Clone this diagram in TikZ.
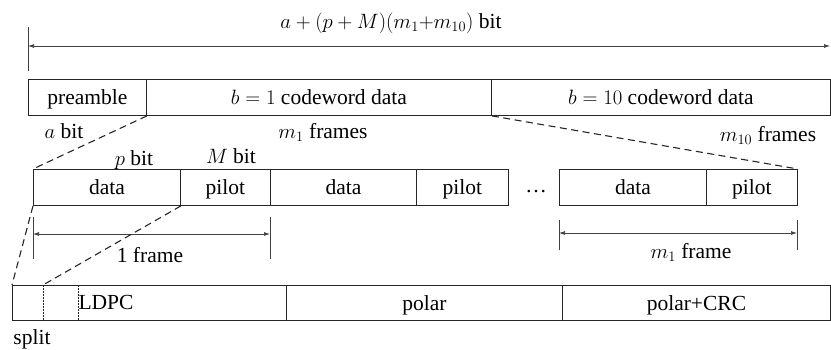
\documentclass[tikz,border=0pt]{standalone}
\usepackage{fontspec}
\setmainfont{Liberation Serif}
\newfontfamily\tnr{Liberation Serif}
\usetikzlibrary{arrows.meta}
\begin{document}
\begin{tikzpicture}[x=1pt,y=-1pt,
  every node/.style={font=\tnr\fontsize{21.5}{25}\selectfont, inner sep=0pt, text height=14.5pt, text depth=0pt},
  cell/.style={draw=black!85, line width=0.9pt, anchor=north west, minimum height=36pt},
  dimline/.style={draw=black!75, line width=0.7pt, {Latex[length=6pt,width=4pt]}-{Latex[length=6pt,width=4pt]}},
  tickline/.style={draw=black!75, line width=0.7pt},
  zoomline/.style={draw=black!85, line width=1.1pt, dash pattern=on 7pt off 4.5pt},
  splitline/.style={draw=black!85, line width=0.8pt, dash pattern=on 1.5pt off 1.5pt},
]
\useasboundingbox (0,0) rectangle (831,350);

% top dimension
\node (total) at (391,21.5) {$a+(p+M)(m_1{+}m_{10})$ bit};
\coordinate (ta) at (28,27);
\coordinate (tb) at (28,71);
\coordinate (tl) at (28,46);
\coordinate (tr) at (830,46);
\draw[tickline] (ta) -- (tb);
\draw[dimline] (tl) -- (tr);

% row 1
\node[cell, minimum width=118pt] (pre) at (28,79) {preamble};
\node[cell, minimum width=345pt] (b1) at (146,79) {$b=1$ codeword data};
\node[cell, minimum width=339pt] (b10) at (491,79) {$b=10$ codeword data};

\node (abit) at (64,131) {$a$ bit};
\node (m1f) at (323,131.5) {$m_1$ frames};
\node (m10f) at (768,134) {$m_{10}$ frames};

% row 2
\node[cell, minimum width=147pt] (d1) at (33,169) {data};
\node[cell, minimum width=90pt] (p1) at (180,169) {pilot};
\node[cell, minimum width=146pt] (d2) at (270,169) {data};
\node[cell, minimum width=92pt] (p2) at (416,169) {pilot};
\node (dots) at (536,185) {\dots};
\node[cell, minimum width=147pt] (d3) at (559,169) {data};
\node[cell, minimum width=91pt] (p3) at (706,169) {pilot};

\node (pbit) at (134,158.5) {$p$ bit};
\node (Mbit) at (231,156.5) {$M$ bit};

% zoom lines row1 -> row2
\draw[zoomline] (pre.south east) -- (d1.north west);
\draw[zoomline] (b1.south east) -- (p3.north east);

% 1 frame dimension
\coordinate (fa1) at (33,217);
\coordinate (fa2) at (33,259);
\coordinate (fb1) at (270,217);
\coordinate (fb2) at (270,259);
\coordinate (fl) at (33,234);
\coordinate (fr) at (270,234);
\draw[tickline] (fa1) -- (fa2);
\draw[tickline] (fb1) -- (fb2);
\draw[dimline] (fl) -- (fr);
\node (oneframe) at (150,255.5) {1 frame};

% m1 frame dimension
\coordinate (ma1) at (559,220);
\coordinate (ma2) at (559,250);
\coordinate (mb1) at (797,220);
\coordinate (mb2) at (797,250);
\coordinate (ml) at (559,233);
\coordinate (mr) at (797,233);
\draw[tickline] (ma1) -- (ma2);
\draw[tickline] (mb1) -- (mb2);
\draw[dimline] (ml) -- (mr);
\node (m1frame) at (691,251.5) {$m_1$ frame};

% row 3
\node[cell, minimum width=274pt, minimum height=35pt] (ldpc) at (12,285) {};
\node[cell, minimum width=276pt, minimum height=35pt] (polar) at (286,285) {polar};
\node[cell, minimum width=268pt, minimum height=35pt] (crc) at (562,285) {polar+CRC};
\node (ldpctext) at (106,302.5) {LDPC};
\coordinate (s1t) at (43,285);
\coordinate (s1b) at (43,320);
\coordinate (s2t) at (78,285);
\coordinate (s2b) at (78,320);
\draw[splitline] (s1t) -- (s1b);
\draw[splitline] (s2t) -- (s2b);
\node (split) at (32,337) {split};

% zoom lines row2 -> row3
\draw[zoomline] (d1.south west) -- (ldpc.north west);
\draw[zoomline] (d1.south east) -- (s1t);
\end{tikzpicture}
\end{document}
